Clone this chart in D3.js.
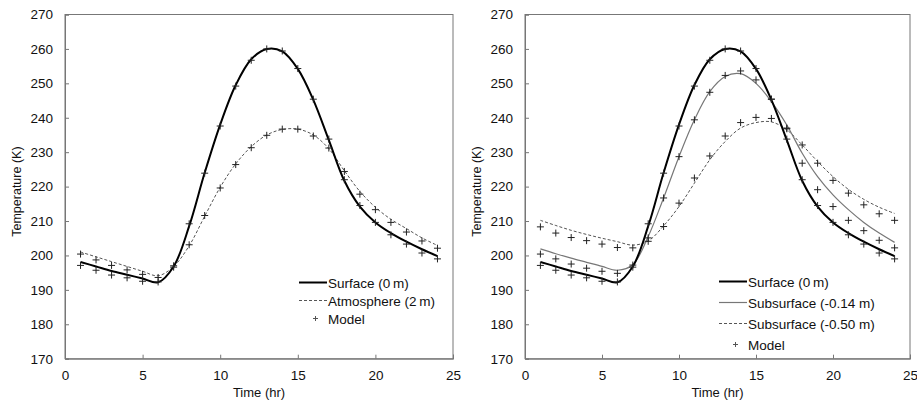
<!DOCTYPE html>
<html>
<head>
<meta charset="utf-8">
<script src="https://cdn.jsdelivr.net/npm/d3@7"></script>
<style>
  body { margin: 0; background: #fff; }
  svg { font-family: "Liberation Sans", Arial, sans-serif; }
</style>
</head>
<body>
<div id="chart"></div>
<script>
// hour of day
const hours = [1, 2, 3, 4, 5, 6, 7, 8, 9, 10, 11, 12, 13, 14, 15, 16, 17, 18, 19, 20, 21, 22, 23, 24];

// measured temperatures (K)
const surfaceObs = [198.1, 196.8, 195.5, 194.4, 193.3, 192.2, 196.8, 208.5, 224.0, 238.0, 249.5, 257.0, 260.0, 259.3, 254.2, 245.2, 233.5, 221.7, 214.2, 209.6, 206.5, 204.0, 201.8, 199.8];
const atmosObs = [201.0, 199.6, 198.2, 196.8, 195.4, 194.1, 196.8, 202.8, 211.4, 219.8, 226.6, 231.6, 235.0, 236.6, 236.7, 235.0, 231.0, 224.6, 218.6, 214.0, 210.5, 207.8, 205.1, 202.9];
const sub14Obs = [201.9, 200.5, 199.2, 198.0, 196.8, 195.7, 197.3, 205.5, 216.7, 228.7, 239.4, 247.6, 252.0, 252.8, 250.0, 244.7, 237.9, 229.7, 222.9, 217.6, 213.3, 209.6, 206.5, 203.8];
const sub50Obs = [210.2, 208.7, 207.3, 206.1, 205.0, 204.0, 203.0, 204.2, 208.6, 214.2, 221.0, 227.8, 233.1, 237.0, 238.6, 238.8, 236.5, 232.1, 227.3, 222.9, 219.2, 216.3, 214.0, 212.2];

// model results (K)
const surfaceModel = [197.1, 195.7, 194.3, 193.5, 192.5, 192.3, 196.6, 209.2, 223.9, 237.6, 249.2, 256.7, 260.0, 259.4, 254.3, 245.4, 233.8, 222.0, 214.5, 209.6, 206.0, 203.3, 200.7, 199.0];
const atmosModel = [200.4, 198.7, 197.1, 195.8, 194.5, 193.6, 197.0, 203.1, 211.6, 219.6, 226.4, 231.3, 234.9, 236.7, 236.7, 234.7, 231.2, 224.4, 217.8, 213.3, 209.6, 206.8, 204.2, 202.1];
const sub14Model = [200.4, 199.0, 197.5, 196.3, 195.4, 194.8, 197.2, 205.1, 216.7, 228.7, 239.4, 247.4, 252.3, 253.6, 251.0, 245.4, 237.0, 226.8, 219.1, 214.2, 210.2, 207.2, 204.4, 202.2];
const sub50Model = [208.3, 206.5, 205.2, 204.3, 203.3, 202.3, 202.2, 204.1, 208.4, 215.2, 222.5, 228.9, 234.7, 238.6, 240.1, 239.8, 236.8, 232.1, 226.8, 221.8, 218.1, 214.7, 212.1, 210.2];

const xTicks = [0, 5, 10, 15, 20, 25];
const yTicks = [170, 180, 190, 200, 210, 220, 230, 240, 250, 260, 270];

const width = 917;
const height = 402;

const svg = d3.select("#chart")
    .append("svg")
    .attr("width", width)
    .attr("height", height);

const styles = {
    surface: { stroke: "#000", width: 2, dash: null },
    atmos: { stroke: "#555", width: 1, dash: "3,2" },
    sub14: { stroke: "#777", width: 1.2, dash: null },
    sub50: { stroke: "#555", width: 1, dash: "3,2" }
};

const plus = (sel, x, y, r, color) => {
    sel.append("path")
        .attr("d", `M${x - r},${y}H${x + r}M${x},${y - r}V${y + r}`)
        .attr("stroke", color)
        .attr("stroke-width", 1)
        .attr("fill", "none");
};

const drawPanel = (cfg) => {
    const x = d3.scaleLinear().domain([0, 25]).range([cfg.left, cfg.right]);
    const y = d3.scaleLinear().domain([170, 270]).range([358.7, 14.5]);

    const g = svg.append("g");

    // frame
    g.append("rect")
        .attr("x", x(0)).attr("y", y(270))
        .attr("width", x(25) - x(0)).attr("height", y(170) - y(270))
        .attr("fill", "none")
        .attr("stroke", "#777")
        .attr("stroke-width", 1);

    const xAxis = g.append("g")
        .attr("transform", `translate(0,${y(170)})`)
        .call(d3.axisBottom(x).tickValues(xTicks).tickSize(-4).tickPadding(12));
    const yAxis = g.append("g")
        .attr("transform", `translate(${x(0)},0)`)
        .call(d3.axisLeft(y).tickValues(yTicks).tickSize(-4).tickPadding(12));

    [xAxis, yAxis].forEach(a => {
        a.select(".domain").attr("stroke", "#777");
        a.selectAll(".tick line").attr("stroke", "#777");
        a.selectAll(".tick text")
            .attr("fill", "#111")
            .style("font-size", "13.5px")
            .style("font-family", "'Liberation Sans', Arial, sans-serif");
    });

    // axis titles
    g.append("text")
        .attr("x", (x(0) + x(25)) / 2)
        .attr("y", 397)
        .attr("text-anchor", "middle")
        .style("font-size", "13px")
        .attr("fill", "#111")
        .text("Time (hr)");

    g.append("text")
        .attr("transform", `translate(${cfg.left - 44}, ${y(220) + 5}) rotate(-90)`)
        .attr("text-anchor", "middle")
        .style("font-size", "12.5px")
        .attr("fill", "#111")
        .text("Temperature (K)");

    // measured lines
    const line = vals => d3.line()
        .x((d, i) => x(hours[i]))
        .y(d => y(d))
        .curve(d3.curveCatmullRom.alpha(0.5))(vals);

    cfg.series.slice().reverse().forEach(s => {
        g.append("path")
            .attr("d", line(s.values))
            .attr("fill", "none")
            .attr("stroke", s.style.stroke)
            .attr("stroke-width", s.style.width)
            .attr("stroke-dasharray", s.style.dash);
    });

    // model points
    cfg.models.forEach(m => {
        m.forEach((v, i) => plus(g, x(hours[i]), y(v), 3.5, "#222"));
    });

    // legend
    const lg = g.append("g").attr("transform", `translate(${cfg.legendX}, ${cfg.legendY})`);
    cfg.series.forEach((s, i) => {
        const row = lg.append("g").attr("transform", `translate(0, ${i * cfg.legendStep})`);
        row.append("line")
            .attr("x1", 0).attr("x2", 28)
            .attr("y1", 0).attr("y2", 0)
            .attr("stroke", s.style.stroke)
            .attr("stroke-width", s.style.width)
            .attr("stroke-dasharray", s.style.dash);
        row.append("text")
            .attr("x", 29).attr("y", 5)
            .style("font-size", "13.5px")
            .attr("fill", "#111")
            .text(s.name);
    });
    const mrow = lg.append("g").attr("transform", `translate(0, ${cfg.series.length * cfg.legendStep})`);
    plus(mrow, 16.5, 0, 2.5, "#555");
    mrow.append("text")
        .attr("x", 29).attr("y", 5)
        .style("font-size", "13.5px")
        .attr("fill", "#111")
        .text("Model");
};

drawPanel({
    left: 65, right: 453,
    legendX: 299, legendY: 282.5, legendStep: 18,
    series: [
        { name: "Surface (0\u2009m)", values: surfaceObs, style: styles.surface },
        { name: "Atmosphere (2\u2009m)", values: atmosObs, style: styles.atmos }
    ],
    models: [surfaceModel, atmosModel]
});

drawPanel({
    left: 525, right: 910,
    legendX: 719, legendY: 281.5, legendStep: 21,
    series: [
        { name: "Surface (0\u2009m)", values: surfaceObs, style: styles.surface },
        { name: "Subsurface (-0.14 m)", values: sub14Obs, style: styles.sub14 },
        { name: "Subsurface (-0.50 m)", values: sub50Obs, style: styles.sub50 }
    ],
    models: [surfaceModel, sub14Model, sub50Model]
});
</script>
</body>
</html>
